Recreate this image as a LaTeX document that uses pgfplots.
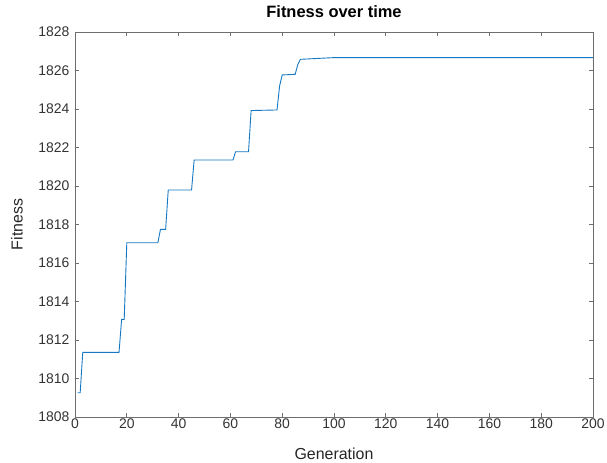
\documentclass[border=0pt]{standalone}
\usepackage{fontspec}
\setmainfont{Liberation Sans}
\usepackage{pgfplots}
\pgfplotsset{compat=1.18}
\definecolor{mlblue}{RGB}{20,120,195}
\definecolor{axgray}{RGB}{110,110,110}
\begin{document}
\begin{tikzpicture}
\useasboundingbox (-75bp,-46bp) rectangle (532bp,417bp);
\begin{axis}[
  at={(0,0)}, anchor=south west,
  scale only axis, width=518bp, height=385bp,
  xmin=0, xmax=200, ymin=1808, ymax=1828,
  xtick={0,20,...,200}, ytick={1808,1810,...,1828},
  tick align=inside, tick pos=both,
  major tick length=4bp,
  axis line style={axgray, line width=0.7pt},
  tick style={axgray, line width=0.7pt},
  /pgf/number format/assume math mode=true,
  /pgf/number format/1000 sep={},
  ticklabel style={font=\fontsize{14}{16}\selectfont, text=black!80},
  xticklabel style={anchor=center, yshift=-7bp},
  yticklabel style={anchor=east, xshift=-2bp},
  title={\textbf{Fitness over time}},
  title style={font=\fontsize{16.5}{18}\selectfont, at={(axis description cs:0.5,1.0364)}, anchor=center},
  xlabel={Generation}, ylabel={Fitness},
  label style={font=\fontsize{16}{18}\selectfont, text=black!85},
  xlabel style={at={(axis description cs:0.5,-0.0961)}, anchor=center},
  ylabel style={at={(axis description cs:-0.112,0.5)}, anchor=center},
]
\addplot[mlblue, line width=0.9pt] coordinates {
(1,1809.26) (2,1809.26) (3,1811.36) (17,1811.36) (18,1813.07) (19,1813.07)
(20,1817.05) (32,1817.05) (33,1817.75) (35,1817.75) (36,1819.79) (45,1819.79)
(46,1821.35) (61,1821.35) (62,1821.78) (67,1821.78) (68,1823.92) (78,1823.95)
(79,1825.2) (80,1825.77) (85,1825.80) (86,1826.3) (87,1826.58) (100,1826.67)
(200,1826.67)
};
\end{axis}
\end{tikzpicture}
\end{document}
